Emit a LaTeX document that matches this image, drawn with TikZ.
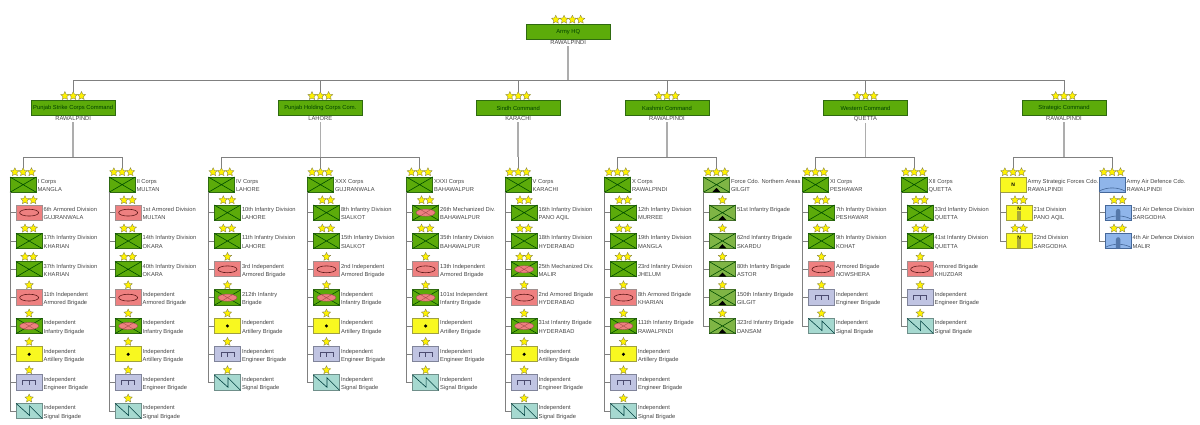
\documentclass[tikz,border=0pt]{standalone}
\usepackage{fontspec}
\setmainfont{Liberation Sans}
\usetikzlibrary{shapes.geometric,calc}
\definecolor{inkText}{HTML}{444444}
\definecolor{grnF}{HTML}{5CAB0A}
\definecolor{grnD}{HTML}{2F6A10}
\definecolor{ylwF}{HTML}{F8F820}
\definecolor{ylwD}{HTML}{A0A040}
\definecolor{pnkF}{HTML}{EE8080}
\definecolor{pnkD}{HTML}{A09090}
\definecolor{engF}{HTML}{C0C4E2}
\definecolor{engD}{HTML}{80849A}
\definecolor{sigF}{HTML}{A6D9D0}
\definecolor{sigD}{HTML}{6F8F8A}
\definecolor{frcF}{HTML}{7FB545}
\definecolor{frcD}{HTML}{45702A}
\definecolor{adF}{HTML}{8FB5EA}
\definecolor{adD}{HTML}{45689A}
\definecolor{mslB}{HTML}{5578AA}
\definecolor{mslY}{HTML}{A8A83A}
\tikzset{
  conn/.style={draw=black!50,line width=0.9pt},
  stem/.style={draw=black!32,line width=1.5pt},
  starmark/.style={star,star points=5,star point ratio=2.1,minimum size=8.8pt,inner sep=0pt,outer sep=0pt,fill=yellow,draw=black!55!yellow,line width=0.35pt},
  ubase/.style={rectangle,minimum width=26.3pt,minimum height=15.3pt,inner sep=0pt,outer sep=0pt,line width=1pt},
  u-inf/.style={ubase,fill=grnF,draw=grnD},
  u-arm/.style={ubase,fill=pnkF,draw=pnkD},
  u-mech/.style={ubase,fill=grnF,draw=grnD},
  u-art/.style={ubase,fill=ylwF,draw=ylwD},
  u-eng/.style={ubase,fill=engF,draw=engD},
  u-sig/.style={ubase,fill=sigF,draw=sigD},
  u-frc/.style={ubase,fill=frcF,draw=frcD},
  u-stc/.style={ubase,fill=ylwF,draw=ylwD},
  u-std/.style={ubase,fill=ylwF,draw=ylwD},
  u-adc/.style={ubase,fill=adF,draw=adD},
  u-add/.style={ubase,fill=adF,draw=adD},
  cmdbox/.style={rectangle,minimum width=84pt,minimum height=15.3pt,inner sep=0pt,outer sep=0pt,fill=grnF,draw=grnD,line width=1pt,text=green!25!black,font=\fontsize{5.8}{7}\selectfont},
  loc/.style={inner sep=0pt,outer sep=1.5pt,text=inkText,font=\fontsize{5.8}{7}\selectfont},
  ulabel/.style={inner sep=0pt,outer sep=0pt,anchor=north west,align=left,text=inkText,font=\fontsize{5.75}{8.3}\selectfont},
  sym/.style={draw=green!30!black,line width=0.6pt},
}
\newcommand\syminf[1]{\draw[sym] (#1.north west)--(#1.south east) (#1.south west)--(#1.north east);}
\newcommand\symarm[1]{\draw[draw=red!30!black!90,line width=0.6pt] (#1.center) ellipse [x radius=9.5,y radius=3.4];}
\newcommand\symmech[1]{\syminf{#1}\fill[pnkF,draw=red!40!black!70,line width=0.4pt] (#1.center) ellipse [x radius=9.5,y radius=3.6];
  \begin{scope}[shift={(#1.center)}]\draw[draw=red!50!black!70,line width=0.4pt] (-5,-3)--(5,3) (-5,3)--(5,-3);\end{scope}}
\newcommand\symart[1]{\fill[black] (#1.center) circle (1.7);}
\newcommand\symeng[1]{\begin{scope}[shift={(#1.center)}]\draw[draw=blue!20!black!70,line width=0.6pt] (-6.5,2.4)--(-6.5,-2)--(6.5,-2)--(6.5,2.4) (0,-2)--(0,2.4);\end{scope}}
\newcommand\symsig[1]{\begin{scope}[shift={(#1.center)}]\draw[draw=teal!50!black,line width=0.6pt] (-13.15,-7.65)--(0.5,4.6)--(0.5,-5)--(13.15,7.65);\end{scope}}
\newcommand\symfrc[1]{\syminf{#1}\begin{scope}[shift={(#1.center)}]\fill[black] (-4,7.4)--(0,3.2)--(4,7.4)--cycle;\end{scope}}
\newcommand\symstc[1]{\node[font=\bfseries\fontsize{5}{5}\selectfont,inner sep=0pt] (#1-n) at (#1.center) {N};}
\newcommand\symstd[1]{\begin{scope}[shift={(#1.center)}]\fill[mslY] (-2,-1.5) rectangle (2,7.2);\end{scope}
  \node[font=\bfseries\fontsize{5}{5}\selectfont,inner sep=0pt] (#1-n) at ($(#1.center)+(0,-3.7)$) {N};}
\newcommand\symadc[1]{\begin{scope}[shift={(#1.center)}]\draw[draw=adD,line width=0.6pt] (-13.15,6.5) .. controls (-5,2.2) and (5,2.2) .. (13.15,6.5);\end{scope}}
\newcommand\symadd[1]{\symadc{#1}\begin{scope}[shift={(#1.center)}]\fill[mslB] (-2.2,7.4)--(-2.2,-1.5) .. controls (-2.2,-4.5) and (2.2,-4.5) .. (2.2,-1.5)--(2.2,7.4)--cycle;\end{scope}}
% name, type, x, top y, stars, text
\newcommand\ubox[6]{%
  \node[u-#2] (#1) at (#3+13.15,#4+7.65) {};
  \csname sym#2\endcsname{#1}
  \foreach \i in {1,...,#5}{\node[starmark] (#1-s\i) at ($(#1.north)+({(\i-(#5+1)/2)*8.3},-4.9)$) {};}
  \node[ulabel] (#1-l) at ($(#1.north east)+(1.4,2.4)$) {#6};
}
% name, centre x, top y, stars, title, location
\newcommand\command[6]{%
  \node[cmdbox] (#1) at (#2,#3+7.65) {#5};
  \foreach \i in {1,...,#4}{\node[starmark] (#1-s\i) at ($(#1.north)+({(\i-(#4+1)/2)*8.3},-4.4)$) {};}
  \node[loc] (#1-l) at (#2,#3+18.6) {#6};
}
\newcommand\corps[6]{% name,type,x,text,parent
  \ubox{#1}{#2}{#3}{177}{3}{#4}
  \draw[conn] (#1-s2.north) |- (#5-bus);
  \def\curx{#3}\def\curp{#1}
}
% index,type,stars,text
\newcommand\kid[4]{%
  \ubox{\curp-c#1}{#2}{\curx+6}{205+28.33*#1}{#3}{#4}
  \draw[conn] (\curp.south west) |- (\curp-c#1.west);
}
\newcommand\stdfour[1]{% art eng sig from index #1
  \pgfmathtruncatemacro\ka{#1}\pgfmathtruncatemacro\kb{#1+1}\pgfmathtruncatemacro\kc{#1+2}
  \kid{\ka}{art}{1}{Independent\\Artillery Brigade}
  \kid{\kb}{eng}{1}{Independent\\Engineer Brigade}
  \kid{\kc}{sig}{1}{Independent\\Signal Brigade}
}
\begin{document}
\begin{tikzpicture}[x=1pt,y=-1pt]
\useasboundingbox (0,0) rectangle (1200,424);
\command{hq}{568.2}{24}{4}{Army HQ}{RAWALPINDI}
\coordinate (bus) at (568.2,80);
\draw[stem] (hq-l.south) -- (bus);
\command{cS}{73.2}{100.3}{3}{Punjab Strike Corps Command}{RAWALPINDI}
\command{cH}{320.3}{100.3}{3}{Punjab Holding Corps Com.}{LAHORE}
\command{cD}{518.2}{100.3}{3}{Sindh Command}{KARACHI}
\command{cK}{667}{100.3}{3}{Kashmir Command}{RAWALPINDI}
\command{cW}{865.5}{100.3}{3}{Western Command}{QUETTA}
\command{cT}{1064}{100.3}{3}{Strategic Command}{RAWALPINDI}
\foreach \c in {cS,cH,cD,cK,cW,cT}{
  \draw[conn] (\c-s2.north) |- (bus);
  \coordinate (\c-bus) at ($(\c)+(0,49)$);
  \draw[stem] (\c-l.south) -- (\c-bus);
}
% I Corps
\corps{cI}{inf}{10}{I Corps\\MANGLA}{cS}{}
\kid{0}{arm}{2}{6th Armored Division\\GUJRANWALA}
\kid{1}{inf}{2}{17th Infantry Division\\KHARIAN}
\kid{2}{inf}{2}{37th Infantry Division\\KHARIAN}
\kid{3}{arm}{1}{11th Independent\\Armored Brigade}
\kid{4}{mech}{1}{Independent\\Infantry Brigade}
\stdfour{5}
% II Corps
\corps{cII}{inf}{109}{II Corps\\MULTAN}{cS}{}
\kid{0}{arm}{2}{1st Armored Division\\MULTAN}
\kid{1}{inf}{2}{14th Infantry Division\\OKARA}
\kid{2}{inf}{2}{40th Infantry Division\\OKARA}
\kid{3}{arm}{1}{Independent\\Armored Brigade}
\kid{4}{mech}{1}{Independent\\Infantry Brigade}
\stdfour{5}
% IV Corps
\corps{cIV}{inf}{208.3}{IV Corps\\LAHORE}{cH}{}
\kid{0}{inf}{2}{10th Infantry Division\\LAHORE}
\kid{1}{inf}{2}{11th Infantry Division\\LAHORE}
\kid{2}{arm}{1}{3rd Independent\\Armored Brigade}
\kid{3}{mech}{1}{212th Infantry\\Brigade}
\stdfour{4}
% XXX Corps
\corps{cXXX}{inf}{307.3}{XXX Corps\\GUJRANWALA}{cH}{}
\kid{0}{inf}{2}{8th Infantry Division\\SIALKOT}
\kid{1}{inf}{2}{15th Infantry Division\\SIALKOT}
\kid{2}{arm}{1}{2nd Independent\\Armored Brigade}
\kid{3}{mech}{1}{Independent\\Infantry Brigade}
\stdfour{4}
% XXXI Corps
\corps{cXXXI}{inf}{406.5}{XXXI Corps\\BAHAWALPUR}{cH}{}
\kid{0}{mech}{2}{26th Mechanized Div.\\BAHAWALPUR}
\kid{1}{inf}{2}{35th Infantry Division\\BAHAWALPUR}
\kid{2}{arm}{1}{13th Independent\\Armored Brigade}
\kid{3}{mech}{1}{101st Independent\\Infantry Brigade}
\stdfour{4}
% V Corps
\corps{cV}{inf}{505}{V Corps\\KARACHI}{cD}{}
\kid{0}{inf}{2}{16th Infantry Division\\PANO AQIL}
\kid{1}{inf}{2}{18th Infantry Division\\HYDERABAD}
\kid{2}{mech}{2}{25th Mechanized Div.\\MALIR}
\kid{3}{arm}{1}{2nd Armored Brigade\\HYDERABAD}
\kid{4}{mech}{1}{31st Infantry Brigade\\HYDERABAD}
\stdfour{5}
% X Corps
\corps{cX}{inf}{604.3}{X Corps\\RAWALPINDI}{cK}{}
\kid{0}{inf}{2}{12th Infantry Division\\MURREE}
\kid{1}{inf}{2}{19th Infantry Division\\MANGLA}
\kid{2}{inf}{2}{23rd Infantry Division\\JHELUM}
\kid{3}{arm}{1}{8th Armored Brigade\\KHARIAN}
\kid{4}{mech}{1}{111th Infantry Brigade\\RAWALPINDI}
\stdfour{5}
% Force Command
\corps{cF}{frc}{703.3}{Force Cdo. Northern Areas\\GILGIT}{cK}{}
\kid{0}{frc}{1}{51st Infantry Brigade}
\kid{1}{frc}{1}{62nd Infantry Brigade\\SKARDU}
\kid{2}{frc}{1}{80th Infantry Brigade\\ASTOR}
\kid{3}{frc}{1}{150th Infantry Brigade\\GILGIT}
\kid{4}{frc}{1}{323rd Infantry Brigade\\DANSAM}
% XI Corps
\corps{cXI}{inf}{802.3}{XI Corps\\PESHAWAR}{cW}{}
\kid{0}{inf}{2}{7th Infantry Division\\PESHAWAR}
\kid{1}{inf}{2}{9th Infantry Division\\KOHAT}
\kid{2}{arm}{1}{Armored Brigade\\NOWSHERA}
\kid{3}{eng}{1}{Independent\\Engineer Brigade}
\kid{4}{sig}{1}{Independent\\Signal Brigade}
% XII Corps
\corps{cXII}{inf}{901}{XII Corps\\QUETTA}{cW}{}
\kid{0}{inf}{2}{33rd Infantry Division\\QUETTA}
\kid{1}{inf}{2}{41st Infantry Division\\QUETTA}
\kid{2}{arm}{1}{Armored Brigade\\KHUZDAR}
\kid{3}{eng}{1}{Independent\\Engineer Brigade}
\kid{4}{sig}{1}{Independent\\Signal Brigade}
% Strategic
\corps{cA}{stc}{1000}{Army Strategic Forces Cdo.\\RAWALPINDI}{cT}{}
\kid{0}{std}{2}{21st Division\\PANO AQIL}
\kid{1}{std}{2}{22nd Division\\SARGODHA}
% Air defence
\corps{cB}{adc}{1099}{Army Air Defence Cdo.\\RAWALPINDI}{cT}{}
\kid{0}{add}{2}{3rd Air Defence Division\\SARGODHA}
\kid{1}{add}{2}{4th Air Defence Division\\MALIR}
\end{tikzpicture}
\end{document}
